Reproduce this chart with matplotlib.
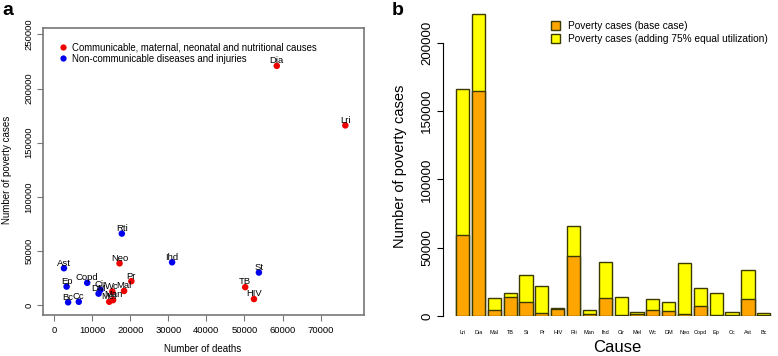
import matplotlib
matplotlib.use("Agg")
import matplotlib.pyplot as plt
from matplotlib.patches import Patch
from matplotlib.lines import Line2D

plt.rcParams['font.family'] = ['Liberation Sans', 'DejaVu Sans']

# ---- data ----
causes = ["Lri", "Dia", "Mal", "TB", "St", "Pr", "HIV", "Rti", "Man", "Ihd",
          "Cir", "Mel", "Wc", "DM", "Neo", "Copd", "Ep", "Cc", "Ast", "Bc"]
group = ["C", "C", "C", "C", "N", "C", "C", "N", "C", "N",
         "N", "C", "C", "N", "C", "N", "N", "N", "N", "N"]
deaths = [76500, 58500, 18400, 50200, 53800, 20300, 52500, 17800, 15500, 31000,
          12200, 14500, 15300, 11700, 17200, 8700, 3300, 6500, 2600, 3700]
total_cases = [166000, 221000, 13000, 16500, 30000, 22000, 5500, 66000, 4500, 39500,
               14000, 3000, 12500, 10500, 38500, 20500, 17000, 3000, 34000, 2500]
base_cases = [59500, 164500, 4500, 14000, 10000, 2500, 5000, 44000, 1500, 13500,
              500, 1500, 4500, 3500, 1500, 7500, 1000, 500, 12500, 500]

legend_a = ["Communicable, maternal, neonatal and nutritional causes",
            "Non-communicable diseases and injuries"]
legend_b = ["Poverty cases (base case)", "Poverty cases (adding 75% equal utilization)"]

xticks_a = [0, 10000, 20000, 30000, 40000, 50000, 60000, 70000]
yticks_a = [0, 50000, 100000, 150000, 200000, 250000]
yticks_b = [0, 50000, 100000, 150000, 200000]

W, H = 778, 356
fig = plt.figure(figsize=(W / 100, H / 100), dpi=100)

def frac(l, t, r, b):
    return [l / W, 1 - b / H, (r - l) / W, (b - t) / H]

# ---- panel a ----
ax = fig.add_axes(frac(43, 28, 364, 315))
cols = ['#EE0000' if g == "C" else '#0000EE' for g in group]
ax.scatter(deaths, total_cases, c=cols, s=22, zorder=3, linewidths=0)
for x, y, lab in zip(deaths, total_cases, causes):
    ax.annotate(lab, (x, y), xytext=(0, 0.5), textcoords='offset points',
                ha='center', va='bottom', fontsize=6.8, zorder=4)
ax.set_xlim(-2900, 81400)
ax.set_ylim(-9240, 256000)
ax.set_xticks(xticks_a)
ax.set_xticklabels([str(v) for v in xticks_a])
ax.set_yticks(yticks_a)
ax.set_yticklabels([str(v) for v in yticks_a], rotation=90, va='center')
for s in ax.spines.values():
    s.set_color('#777777')
    s.set_linewidth(1.2)
ax.tick_params(axis='both', colors='#777777', labelcolor='black', labelsize=6.8,
               length=4, width=0.8)
ax.tick_params(axis='x', pad=4)
ax.tick_params(axis='y', pad=3)
ax.set_xlabel("Number of deaths", fontsize=7, va='center')
ax.xaxis.set_label_coords((203 - 43) / 321, -(349 - 315) / 287)
ax.set_ylabel("Number of poverty cases", fontsize=7, va='center')
ax.yaxis.set_label_coords(-(43 - 7) / 321, (315 - 170) / 287)
handles_a = [Line2D([], [], marker='o', color='none', markerfacecolor='#EE0000',
                    markeredgewidth=0, markersize=4.5),
             Line2D([], [], marker='o', color='none', markerfacecolor='#0000EE',
                    markeredgewidth=0, markersize=4.5)]
ax.legend(handles_a, legend_a, loc='upper left', bbox_to_anchor=(0.05, 0.95),
          frameon=False, fontsize=6.9, handlelength=0.8, handletextpad=0.6,
          labelspacing=0.15, borderpad=0, borderaxespad=0)
fig.text(2 / W, 1 - 2 / H, "a", fontsize=14, fontweight='bold', ha='left', va='top')

# ---- panel b ----
bx = fig.add_axes(frac(443, 2, 775, 316))
pos = [0.7 + 1.2 * i for i in range(len(causes))]
edge = '#3d3a00'
bx.bar(pos, total_cases, width=1.0, color='#FFFF00', edgecolor=edge, linewidth=1.0, zorder=2)
bx.bar(pos, base_cases, width=1.0, color='#FFA500', edgecolor=edge, linewidth=1.0, zorder=3)
bx.set_xlim(-0.785, 24.35)
bx.set_ylim(0, 230000)
for k in ['top', 'right', 'bottom']:
    bx.spines[k].set_visible(False)
bx.spines['left'].set_bounds(0, 200000)
bx.set_yticks(yticks_b)
bx.set_yticklabels([str(v) for v in yticks_b], rotation=90, va='center')
bx.tick_params(axis='y', labelsize=9.5, length=4, width=0.8, pad=3)
bx.set_xticks(pos)
bx.set_xticklabels(causes)
bx.tick_params(axis='x', labelsize=4, length=0, pad=10)
bx.set_xlabel("Cause", fontsize=12, va='center')
bx.xaxis.set_label_coords((617 - 443) / 332, -(347 - 316) / 314)
bx.set_ylabel("Number of poverty cases", fontsize=10.5, va='center')
bx.yaxis.set_label_coords(-(443 - 400) / 332, (316 - 166) / 314)
handles_b = [Patch(facecolor='#FFA500', edgecolor=edge, linewidth=1.0),
             Patch(facecolor='#FFFF00', edgecolor=edge, linewidth=1.0)]
bx.legend(handles_b, legend_b, loc='upper left', bbox_to_anchor=(0.325, 0.94),
          frameon=False, fontsize=7.3, handlelength=0.9, handleheight=0.9,
          handletextpad=0.8, labelspacing=0.3, borderpad=0, borderaxespad=0)
fig.text(392 / W, 1 - 2 / H, "b", fontsize=14, fontweight='bold', ha='left', va='top')

fig.savefig("out.png", dpi=100)
